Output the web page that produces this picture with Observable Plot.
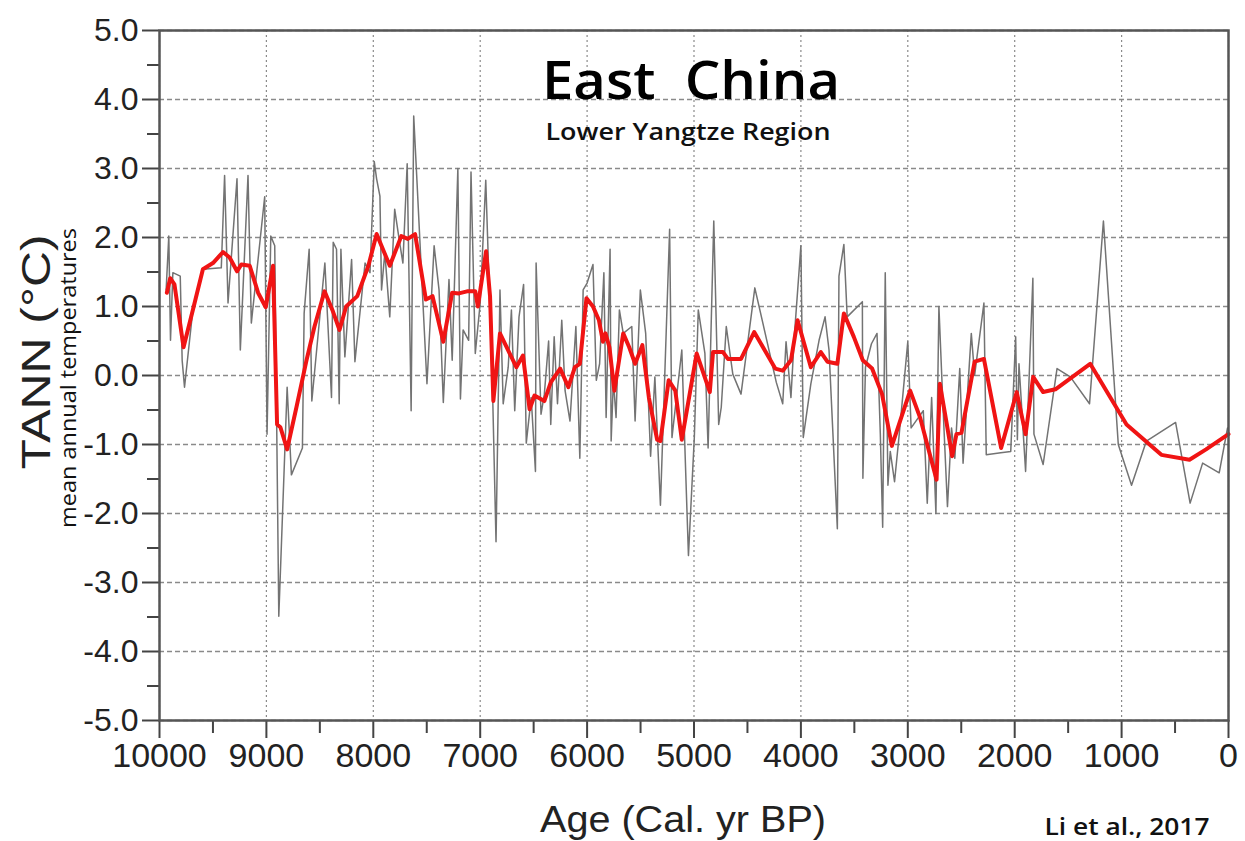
<!DOCTYPE html>
<html><head><meta charset="utf-8">
<script src="https://cdn.jsdelivr.net/npm/d3@7"></script>
<script src="https://cdn.jsdelivr.net/npm/@observablehq/plot@0.6"></script>
<style>
body{margin:0;background:#fff;}
#wrap{position:relative;width:1245px;height:841px;overflow:hidden;}
#wrap svg{position:absolute;left:0;top:0;}
</style></head><body><div id="wrap"></div>
<script>
// Raw reconstruction (thin gray)
const rawAge = [9938,9913,9897,9875,9806,9788,9766,9688,9594,9422,9391,9359,9275,9244,9172,9141,9016,8994,8959,8922,8884,8806,8766,8663,8647,8600,8575,8453,8391,8375,8344,8319,8303,8266,8203,8172,8077,8031,7991,7969,7938,7923,7892,7846,7800,7754,7723,7683,7646,7622,7591,7554,7498,7431,7385,7345,7292,7262,7209,7185,7160,7108,7086,7046,7000,6948,6908,6883,6852,6815,6785,6738,6708,6677,6637,6594,6569,6523,6483,6477,6431,6400,6360,6340,6308,6277,6237,6206,6160,6105,6068,6037,6000,5945,5914,5883,5843,5822,5785,5775,5754,5729,5698,5662,5582,5551,5502,5452,5406,5366,5314,5228,5206,5114,5083,5052,4997,4960,4898,4868,4843,4815,4769,4745,4698,4637,4560,4431,4230,4170,4139,4093,4062,4000,3978,3907,3830,3774,3737,3659,3644,3598,3567,3425,3420,3396,3340,3288,3257,3235,3211,3186,3164,3124,3080,3000,2969,2901,2855,2818,2777,2737,2709,2669,2629,2591,2560,2514,2483,2406,2375,2288,2266,2130,2037,1991,1975,1960,1898,1830,1820,1734,1604,1480,1300,1170,1031,907,768,495,359,242,87,9];
const rawTemp = [1.24,2.02,0.51,1.49,1.44,0.22,-0.17,0.95,1.54,1.56,2.9,1.05,2.85,0.37,2.9,0.76,2.59,-0.85,2.02,1.88,-3.49,-0.17,-1.44,-1.05,0.9,1.83,-0.37,1.63,-0.32,1.93,1.83,-0.41,1.83,0.27,1.68,0.2,1.63,1.49,3.1,2.85,2.6,1.24,1.78,0.85,2.41,1.93,1.63,3.07,-0.51,3.76,2.8,1.63,-0.12,1.88,1.24,-0.39,1.39,0.22,3.0,-0.34,0.66,0.51,2.95,0.32,1.05,2.83,0.9,-0.32,-2.41,1.24,-0.41,0.12,0.95,-0.51,0.85,1.32,-0.98,-0.32,-1.39,1.63,-0.56,-0.27,0.5,-0.71,0.56,-0.41,0.8,-0.22,-0.66,0.71,-1.2,1.24,1.34,1.61,-0.07,0.17,1.49,-0.61,1.83,-0.95,-0.07,-0.61,0.95,0.61,0.71,-0.66,1.24,0.61,-1.17,-0.02,-1.88,2.12,-0.9,0.37,-1.15,-2.61,-0.9,0.95,0.32,-1.05,0.51,2.24,-0.71,-0.46,0.71,0.02,-0.27,1.27,-0.1,-0.41,0.49,-0.32,0.56,1.88,-0.9,-0.12,0.51,0.85,0.37,-2.22,1.44,1.9,0.85,1.07,-1.49,0.12,0.46,0.61,-0.85,-2.2,1.49,-1.59,-1.1,-1.54,-0.85,0.49,-0.76,-0.61,-0.51,-1.85,-0.32,-2.0,1.0,-0.51,-1.9,-0.76,-1.2,0.1,-1.27,0.61,0,1.05,-1.15,-1.12,-1.1,0.56,-0.93,0.17,-1.39,1.41,-0.85,-1.29,0.1,-0.02,-0.41,2.24,-1.0,-1.59,-0.95,-0.68,-1.85,-1.27,-1.41,-0.76];

// Smoothed curve (thick red)
const smoothAge = [9931,9900,9860,9775,9688,9594,9500,9406,9344,9275,9234,9156,9078,9006,8938,8900,8869,8806,8719,8625,8550,8456,8378,8316,8254,8150,8046,7969,7846,7738,7677,7609,7508,7446,7345,7262,7200,7123,7046,7022,6945,6908,6877,6815,6662,6600,6538,6492,6400,6340,6252,6175,6114,6068,6006,5945,5889,5852,5828,5791,5745,5662,5606,5551,5483,5422,5345,5314,5237,5175,5114,4975,4852,4822,4729,4683,4560,4437,4240,4170,4093,4031,3907,3814,3752,3659,3598,3505,3421,3334,3241,3149,2978,2885,2793,2731,2700,2638,2585,2545,2498,2375,2288,2127,1981,1898,1827,1734,1619,1294,954,628,365,210,0];
const smoothTemp = [1.2,1.41,1.32,0.41,0.95,1.54,1.63,1.79,1.71,1.51,1.61,1.59,1.2,0.99,1.59,-0.71,-0.75,-1.07,-0.46,0.22,0.71,1.22,0.93,0.66,1.0,1.15,1.59,2.05,1.59,2.02,1.98,2.05,1.1,1.15,0.49,1.2,1.19,1.22,1.22,1.0,1.8,1.15,-0.37,0.61,0.12,0.29,-0.49,-0.29,-0.37,-0.1,0.1,-0.17,0.12,0.17,1.12,1.0,0.8,0.49,0.61,0.41,-0.22,0.61,0.41,0.17,0.44,-0.32,-0.93,-0.95,-0.07,-0.22,-0.93,0.32,-0.24,0.34,0.34,0.24,0.24,0.63,0.1,0.07,0.22,0.8,0.12,0.34,0.2,0.17,0.9,0.56,0.22,0.1,-0.27,-1.02,-0.22,-0.61,-1.15,-1.51,-0.12,-0.68,-1.17,-0.85,-0.83,0.2,0.24,-1.05,-0.24,-0.85,-0.02,-0.24,-0.2,0.17,-0.71,-1.15,-1.22,-1.07,-0.85];

const xTicks = [10000,9000,8000,7000,6000,5000,4000,3000,2000,1000,0];
const xMinorTicks = [9500,8500,7500,6500,5500,4500,3500,2500,1500,500];
const yTicks = [-5,-4,-3,-2,-1,0,1,2,3,4,5];
const yMinorTicks = [-4.5,-3.5,-2.5,-1.5,-0.5,0.5,1.5,2.5,3.5,4.5];

const raw = rawAge.map((a, i) => ({age: a, temp: rawTemp[i]}));
const smooth = smoothAge.map((a, i) => ({age: a, temp: smoothTemp[i]}));

const axisColor = "#444";
const chart = Plot.plot({
  width: 1245, height: 841,
  marginLeft: 159, marginRight: 17, marginTop: 30, marginBottom: 121,
  x: {domain: [10000, 0]},
  y: {domain: [-5, 5]},
  style: {fontFamily: "'Liberation Sans', Arial, sans-serif", background: "white", color: "#222"},
  marks: [
    Plot.gridX(xTicks, {stroke: "#8a8a8a", strokeOpacity: 1, strokeWidth: 1.2, strokeDasharray: "2,3"}),
    Plot.gridY(yTicks, {stroke: "#8a8a8a", strokeOpacity: 1, strokeWidth: 1.5, strokeDasharray: "5,3"}),
    Plot.line(raw, {x: "age", y: "temp", stroke: "#737373", strokeWidth: 1.5}),
    Plot.line(smooth, {x: "age", y: "temp", stroke: "#f01414", strokeWidth: 4, strokeLinejoin: "round"}),
    Plot.axisX(xTicks, {tickSize: 18, tickPadding: 4, fontSize: 34, tickFormat: d => String(d), label: null, stroke: axisColor, strokeWidth: 2, fill: "#222"}),
    Plot.axisX(xMinorTicks, {tickSize: 13, tickFormat: () => "", label: null, stroke: axisColor, strokeWidth: 2}),
    Plot.axisY(yTicks, {tickSize: 17, tickPadding: 4, fontSize: 32, tickFormat: d => d.toFixed(1), label: null, stroke: axisColor, strokeWidth: 2, fill: "#222"}),
    Plot.axisY(yMinorTicks, {tickSize: 12, tickFormat: () => "", label: null, stroke: axisColor, strokeWidth: 2}),
    Plot.frame({stroke: "#555", strokeWidth: 2.5})
  ]
});
document.getElementById("wrap").appendChild(chart);

// Annotation overlay
const ov = d3.select("#wrap").append("svg").attr("width", 1245).attr("height", 841)
  .style("pointer-events", "none");
function label(txt, x, y, opts) {
  const t = ov.append("text").attr("x", x).attr("y", y).text(txt)
    .attr("text-anchor", "middle")
    .style("white-space", "pre")
    .attr("font-family", opts.font || "'Open Sans', sans-serif")
    .attr("font-size", opts.size)
    .attr("font-weight", opts.weight || 400)
    .attr("fill", opts.fill || "#111");
  if (opts.len) t.attr("textLength", opts.len).attr("lengthAdjust", "spacingAndGlyphs");
  if (opts.rotate) t.attr("transform", `rotate(-90 ${x} ${y})`);
  return t;
}
label("East  China", 691, 99, {size: 52, weight: 600, len: 298, fill: "#000"});
label("Lower Yangtze Region", 688, 140, {size: 23, weight: 600, len: 285, fill: "#111"});
label("TANN (°C)", 50, 352, {size: 40, font: "'Liberation Sans', Arial, sans-serif", len: 235, rotate: true, fill: "#222"});
label("mean annual temperatures", 76, 378, {size: 21, weight: 500, len: 300, rotate: true, fill: "#111"});
label("Age (Cal. yr BP)", 683, 832, {size: 36, font: "'Liberation Sans', Arial, sans-serif", len: 286, fill: "#222"});
label("Li et al., 2017", 1127, 835, {size: 24, weight: 600, len: 165, fill: "#111"});
</script></body></html>
